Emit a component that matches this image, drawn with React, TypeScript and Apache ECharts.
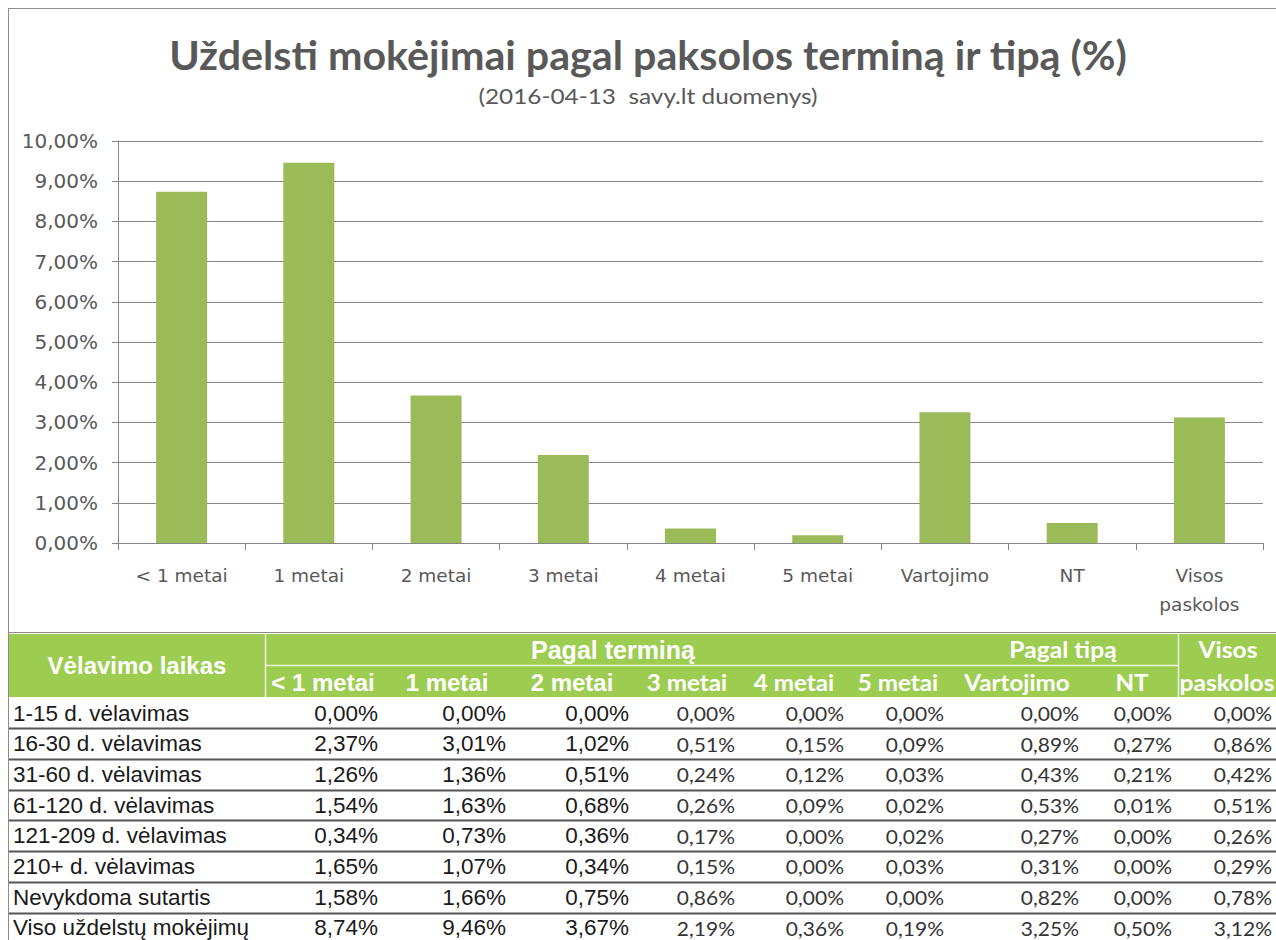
import React, { useEffect, useRef } from "react";
import * as echarts from "echarts";

const titleText = "Uždelsti mokėjimai pagal paksolos terminą ir tipą (%)";
const subtitleText = "(2016-04-13  savy.lt duomenys)";

const categories = ["< 1 metai", "1 metai", "2 metai", "3 metai", "4 metai", "5 metai", "Vartojimo", "NT", "Visos\npaskolos"];
const yTicks = [0, 1, 2, 3, 4, 5, 6, 7, 8, 9, 10];

const tableRowLabels = [
  "1-15 d. vėlavimas",
  "16-30 d. vėlavimas",
  "31-60 d. vėlavimas",
  "61-120 d. vėlavimas",
  "121-209 d. vėlavimas",
  "210+ d. vėlavimas",
  "Nevykdoma sutartis",
  "Viso uždelstų mokėjimų",
];
const row1_15 = [0.0, 0.0, 0.0, 0.0, 0.0, 0.0, 0.0, 0.0, 0.0];
const row16_30 = [2.37, 3.01, 1.02, 0.51, 0.15, 0.09, 0.89, 0.27, 0.86];
const row31_60 = [1.26, 1.36, 0.51, 0.24, 0.12, 0.03, 0.43, 0.21, 0.42];
const row61_120 = [1.54, 1.63, 0.68, 0.26, 0.09, 0.02, 0.53, 0.01, 0.51];
const row121_209 = [0.34, 0.73, 0.36, 0.17, 0.0, 0.02, 0.27, 0.0, 0.26];
const row210 = [1.65, 1.07, 0.34, 0.15, 0.0, 0.03, 0.31, 0.0, 0.29];
const rowNevykdoma = [1.58, 1.66, 0.75, 0.86, 0.0, 0.0, 0.82, 0.0, 0.78];
const rowTotal = [8.74, 9.46, 3.67, 2.19, 0.36, 0.19, 3.25, 0.5, 3.12];
const tableRows = [row1_15, row16_30, row31_60, row61_120, row121_209, row210, rowNevykdoma, rowTotal];

const headerFirst = "Vėlavimo laikas";
const headerTerm = "Pagal terminą";
const headerType = "Pagal tipą";
const headerAll = ["Visos", "paskolos"];
const subHeaders = ["< 1 metai", "1 metai", "2 metai", "3 metai", "4 metai", "5 metai", "Vartojimo", "NT"];

const fmt = (v: number) => v.toFixed(2).replace(".", ",") + "%";

export default function App() {
  const ref = useRef<HTMLDivElement>(null);
  useEffect(() => {
    if (!ref.current) return;
    const chart = echarts.init(ref.current, undefined, { renderer: "svg" });

    const GREEN = "#9dcd50";
    const ARIAL = "'Liberation Sans', Arial, sans-serif";
    const CAL = "Lato, 'Open Sans', sans-serif";
    const AXF = "'DejaVu Sans', sans-serif";
    // layout of table
    const valRight = [378, 506, 629, 735, 844, 944, 1079, 1172, 1272];
    const subCenters = [323, 447, 572, 687, 794, 898, 1017, 1132];
    const rowY0 = 713;
    const rowStep = 30.7;

    const txt = (x: number, y: number, text: string, font: string, fill: string, align: string, sx = 1) => ({
      type: "text", x, y, scaleX: sx,
      style: { text, textAlign: align, textVerticalAlign: "middle", font, fill },
    });

    const g: any[] = [];
    // chart frame
    g.push({ type: "line", shape: { x1: 8.5, y1: 8.5, x2: 1276, y2: 8.5 }, style: { stroke: "#8c8c8c", lineWidth: 1 } });
    g.push({ type: "line", shape: { x1: 8.5, y1: 8, x2: 8.5, y2: 940 }, style: { stroke: "#8c8c8c", lineWidth: 1 } });
    g.push({ type: "line", shape: { x1: 8, y1: 632.5, x2: 1276, y2: 632.5 }, style: { stroke: "#8c8c8c", lineWidth: 1 } });
    // title
    g.push(txt(648, 55, titleText, "bold 40px Lato, sans-serif", "#595959", "center", 1.03));
    g.push(txt(648, 96, subtitleText, "21px Lato, sans-serif", "#595959", "center", 1.16));
    // table header
    g.push({ type: "rect", shape: { x: 9, y: 634, width: 1267, height: 63 }, style: { fill: GREEN } });
    g.push({ type: "line", shape: { x1: 265.5, y1: 634, x2: 265.5, y2: 697 }, style: { stroke: "#eaf5dc", lineWidth: 1.5 } });
    g.push({ type: "line", shape: { x1: 1178.5, y1: 634, x2: 1178.5, y2: 697 }, style: { stroke: "#eaf5dc", lineWidth: 1.5 } });
    g.push({ type: "line", shape: { x1: 266, y1: 665.5, x2: 1178, y2: 665.5 }, style: { stroke: "#eaf5dc", lineWidth: 1.5 } });
    g.push(txt(137, 665, headerFirst, `bold 24px ${ARIAL}`, "#ffffff", "center"));
    g.push(txt(613, 650, headerTerm, `bold 25px ${ARIAL}`, "#ffffff", "center"));
    g.push(txt(1063, 650, headerType, `bold 22px ${CAL}`, "#ffffff", "center", 1.12));
    g.push(txt(1228, 650, headerAll[0], `bold 22px ${CAL}`, "#ffffff", "center", 1.12));
    g.push(txt(1227, 683, headerAll[1], `bold 22px ${CAL}`, "#ffffff", "center", 1.12));
    subHeaders.forEach((h, i) => {
      g.push(txt(subCenters[i], 682, h, i < 3 ? `bold 24px ${ARIAL}` : `bold 22px ${CAL}`, "#ffffff", "center", i < 3 ? 1 : 1.1));
    });
    // table rows
    tableRows.forEach((row, r) => {
      const y = rowY0 + r * rowStep;
      g.push(txt(13, y, tableRowLabels[r], `22.5px ${ARIAL}`, "#1a1a1a", "left"));
      row.forEach((v, c) => {
        g.push(txt(valRight[c], y, fmt(v), c < 3 ? `22.5px ${ARIAL}` : `20px ${CAL}`, c < 3 ? "#1a1a1a" : "#333333", "right", c < 3 ? 1 : 1.05));
      });
      if (r < tableRows.length - 1) {
        const ly = Math.round(y + rowStep / 2) + 0.5;
        g.push({ type: "line", shape: { x1: 9, y1: ly, x2: 1276, y2: ly }, style: { stroke: "#555555", lineWidth: 2 } });
      }
    });

    chart.setOption({
      animation: false,
      grid: { left: 118, right: 13, top: 141, bottom: 397, containLabel: false },
      xAxis: {
        type: "category",
        data: categories,
        axisLine: { show: true, lineStyle: { color: "#868686", width: 1 } },
        axisTick: { show: true, length: 7, alignWithLabel: false, lineStyle: { color: "#868686" } },
        axisLabel: { color: "#595959", fontSize: 18.5, fontFamily: AXF, margin: 18, lineHeight: 29, interval: 0 },
      },
      yAxis: {
        type: "value",
        min: yTicks[0],
        max: yTicks[yTicks.length - 1],
        interval: 1,
        axisLine: { show: true, lineStyle: { color: "#868686", width: 1 } },
        axisTick: { show: true, length: 6, lineStyle: { color: "#868686" } },
        axisLabel: { color: "#595959", fontSize: 20, fontFamily: AXF, margin: 20, formatter: (v: number) => fmt(v) },
        splitLine: { show: true, lineStyle: { color: "#868686", width: 1 } },
      },
      series: [
        {
          type: "bar",
          data: rowTotal,
          barWidth: 51,
          itemStyle: { color: "#9bbb59" },
        },
      ],
      graphic: g,
    });
    return () => chart.dispose();
  }, []);
  return <div ref={ref} style={{ position: "fixed", left: 0, top: 0, width: 1276, height: 940, background: "#ffffff" }} />;
}
